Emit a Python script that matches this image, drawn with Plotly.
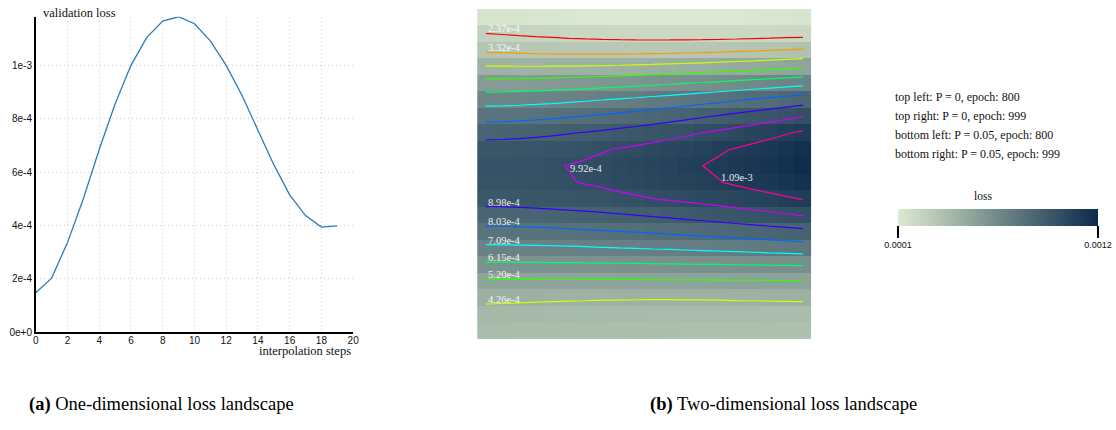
import plotly.graph_objects as go

W, H = 1116, 430

# ---------------- data ----------------
# (a) one-dimensional loss landscape
interp_steps = list(range(20))
val_loss = [1.48e-4, 2.03e-4, 3.36e-4, 5.00e-4, 6.85e-4, 8.55e-4, 1.000e-3, 1.105e-3,
            1.166e-3, 1.182e-3, 1.156e-3, 1.092e-3, 1.000e-3, 8.87e-4, 7.57e-4,
            6.28e-4, 5.15e-4, 4.37e-4, 3.94e-4, 3.99e-4]
y_tick_vals = [0, 2e-4, 4e-4, 6e-4, 8e-4, 1e-3]
y_tick_text = ["0e+0", "2e-4", "4e-4", "6e-4", "8e-4", "1e-3"]
x_tick_vals = list(range(0, 21, 2))

# (b) two-dimensional loss landscape, 20 x 20 grid (units of 1e-4), row 0 = top
grid_unit = 1e-4
loss_grid_e4 = [
    [1.35, 1.31, 1.27, 1.23, 1.19, 1.15, 1.13, 1.10, 1.08, 1.07, 1.07, 1.07, 1.07, 1.09, 1.11, 1.13, 1.16, 1.19, 1.22, 1.25],
    [2.38, 2.33, 2.27, 2.22, 2.17, 2.12, 2.08, 2.04, 2.01, 1.99, 1.97, 1.96, 1.96, 1.96, 1.97, 1.98, 2.00, 2.02, 2.05, 2.07],
    [3.17, 3.13, 3.10, 3.06, 3.04, 3.01, 3.00, 2.99, 2.99, 2.99, 3.01, 3.03, 3.06, 3.09, 3.13, 3.18, 3.23, 3.29, 3.35, 3.41],
    [4.31, 4.30, 4.29, 4.29, 4.30, 4.31, 4.33, 4.35, 4.38, 4.42, 4.46, 4.51, 4.56, 4.62, 4.68, 4.75, 4.82, 4.90, 4.98, 5.06],
    [5.51, 5.52, 5.55, 5.58, 5.62, 5.67, 5.72, 5.78, 5.84, 5.91, 5.98, 6.06, 6.14, 6.22, 6.31, 6.41, 6.51, 6.61, 6.71, 6.82],
    [6.70, 6.72, 6.75, 6.80, 6.85, 6.92, 6.99, 7.07, 7.16, 7.25, 7.36, 7.46, 7.58, 7.70, 7.82, 7.95, 8.09, 8.23, 8.38, 8.53],
    [7.70, 7.72, 7.76, 7.81, 7.88, 7.96, 8.05, 8.14, 8.25, 8.36, 8.49, 8.62, 8.75, 8.90, 9.05, 9.21, 9.37, 9.54, 9.72, 9.90],
    [8.65, 8.67, 8.71, 8.77, 8.84, 8.93, 9.02, 9.12, 9.24, 9.36, 9.49, 9.63, 9.77, 9.93, 10.08, 10.25, 10.43, 10.61, 10.80, 10.99],
    [9.41, 9.43, 9.47, 9.53, 9.59, 9.67, 9.76, 9.86, 9.97, 10.08, 10.21, 10.34, 10.47, 10.62, 10.77, 10.93, 11.10, 11.27, 11.45, 11.63],
    [9.68, 9.70, 9.74, 9.79, 9.86, 9.94, 10.02, 10.12, 10.23, 10.34, 10.46, 10.59, 10.72, 10.87, 11.02, 11.17, 11.34, 11.51, 11.68, 11.86],
    [9.65, 9.67, 9.70, 9.75, 9.81, 9.88, 9.96, 10.04, 10.14, 10.24, 10.35, 10.46, 10.58, 10.71, 10.84, 10.98, 11.12, 11.27, 11.43, 11.59],
    [9.36, 9.37, 9.40, 9.44, 9.49, 9.54, 9.60, 9.67, 9.75, 9.83, 9.91, 10.00, 10.10, 10.20, 10.30, 10.42, 10.53, 10.65, 10.77, 10.90],
    [8.55, 8.56, 8.59, 8.62, 8.67, 8.72, 8.77, 8.83, 8.90, 8.97, 9.05, 9.13, 9.22, 9.31, 9.41, 9.51, 9.61, 9.72, 9.83, 9.95],
    [7.75, 7.76, 7.78, 7.80, 7.83, 7.87, 7.91, 7.95, 8.00, 8.05, 8.11, 8.17, 8.23, 8.30, 8.36, 8.44, 8.51, 8.59, 8.67, 8.75],
    [6.90, 6.91, 6.92, 6.93, 6.95, 6.97, 7.00, 7.03, 7.06, 7.09, 7.13, 7.16, 7.20, 7.24, 7.29, 7.33, 7.38, 7.43, 7.48, 7.53],
    [6.00, 6.00, 6.01, 6.01, 6.02, 6.02, 6.03, 6.04, 6.05, 6.06, 6.07, 6.08, 6.10, 6.11, 6.12, 6.14, 6.15, 6.17, 6.18, 6.20],
    [5.05, 5.05, 5.05, 5.06, 5.06, 5.06, 5.07, 5.07, 5.08, 5.08, 5.09, 5.10, 5.10, 5.11, 5.12, 5.13, 5.13, 5.14, 5.15, 5.16],
    [4.45, 4.43, 4.41, 4.39, 4.37, 4.36, 4.35, 4.33, 4.33, 4.32, 4.32, 4.32, 4.33, 4.33, 4.34, 4.36, 4.37, 4.39, 4.40, 4.42],
    [3.95, 3.93, 3.91, 3.89, 3.87, 3.85, 3.83, 3.81, 3.80, 3.78, 3.77, 3.76, 3.75, 3.74, 3.74, 3.73, 3.73, 3.72, 3.72, 3.72],
    [3.75, 3.74, 3.72, 3.70, 3.68, 3.66, 3.64, 3.63, 3.61, 3.59, 3.58, 3.57, 3.56, 3.55, 3.54, 3.53, 3.52, 3.52, 3.51, 3.50],
]
contour_levels = [2.37e-4, 3.32e-4, 4.26e-4, 5.20e-4, 6.15e-4, 7.09e-4, 8.03e-4, 8.98e-4, 9.92e-4, 1.087e-3]
contour_colors = ["#ff0000", "#ff9900", "#ccff00", "#33ff00", "#00ff66",
                  "#00ffff", "#0066ff", "#3300ff", "#cc00ff", "#ff0099"]
legend_lines = ["top left: P = 0, epoch: 800",
                "top right: P = 0, epoch: 999",
                "bottom left: P = 0.05, epoch: 800",
                "bottom right: P = 0.05, epoch: 999"]
color_min, color_max = 1e-4, 1.2e-3

# ---------------- helpers ----------------
Z = [[v * grid_unit for v in row] for row in loss_grid_e4]
n_rows, n_cols = len(Z), len(Z[0])
gx = list(range(n_cols))
gy = list(range(n_rows))


def fmt_level(v):
    m, e = f"{v:.2e}".split("e")
    return f"{m}e{int(e)}"


def cross_col(col, level, r0, r1):
    for i in range(r0, r1):
        a, b = Z[i][col], Z[i + 1][col]
        if a != b and (a - level) * (b - level) <= 0:
            return i + (level - a) / (b - a)
    return None


def cross_row(row, level):
    for j in range(n_cols - 1):
        a, b = Z[row][j], Z[row][j + 1]
        if a != b and (a - level) * (b - level) <= 0:
            return j + (level - a) / (b - a)
    return None


def px(xp):
    return xp / W


def py(yp):
    return (H - yp) / H


fig = go.Figure()

# ---------------- (a) ----------------
fig.add_trace(go.Scatter(x=interp_steps, y=val_loss, mode="lines",
                         line=dict(color="#2b7bba", width=1.3),
                         xaxis="x", yaxis="y", showlegend=False))

# ---------------- (b) ----------------
fig.add_trace(go.Heatmap(
    z=Z, x=gx, y=gy, xaxis="x2", yaxis="y2",
    zmin=color_min, zmax=color_max,
    colorscale=[[0, "#dde9d2"], [0.25, "#a9bcab"], [0.5, "#72898a"],
                [0.75, "#3d5a6c"], [1, "#0d2a4b"]],
    showscale=True,
    colorbar=dict(orientation="h", x=px(1003), xanchor="center",
                  y=py(212), yanchor="top", len=200, lenmode="pixels",
                  thickness=17, thicknessmode="pixels", xpad=0, ypad=0,
                  outlinewidth=0, tickvals=[color_min, color_max],
                  ticktext=["0.0001", "0.0012"], ticks="outside", ticklen=12,
                  tickwidth=1.5, tickcolor="black",
                  tickfont=dict(family="Liberation Sans", size=9, color="#111")),
))

for lv, col in zip(contour_levels, contour_colors):
    fig.add_trace(go.Contour(
        z=Z, x=gx, y=gy, xaxis="x2", yaxis="y2",
        autocontour=False,
        contours=dict(start=lv, end=lv, size=1e-3, coloring="none", showlabels=False),
        line=dict(color=col, width=1.2, smoothing=0),
        showscale=False, hoverinfo="skip", showlegend=False))

annotations = []
label_font = dict(family="Liberation Serif", size=10.5, color="rgba(255,255,255,0.92)")
for k, lv in enumerate(contour_levels):
    txt = fmt_level(lv)
    if k < 2:
        r = cross_col(0, lv, 0, n_rows // 2)
        annotations.append(dict(x=0, y=r, xref="x2", yref="y2", text=txt, showarrow=False,
                                xanchor="left", yanchor="bottom", yshift=-3, font=label_font))
    elif k < 8:
        r = cross_col(0, lv, n_rows // 2, n_rows - 1)
        annotations.append(dict(x=0, y=r, xref="x2", yref="y2", text=txt, showarrow=False,
                                xanchor="left", yanchor="bottom", yshift=-3, font=label_font))
    elif k == 8:
        c = cross_row(9, lv)
        annotations.append(dict(x=c, y=9, xref="x2", yref="y2", text=txt, showarrow=False,
                                xanchor="left", yanchor="middle", xshift=3, yshift=-3, font=label_font))
    else:
        c = cross_row(10, lv)
        annotations.append(dict(x=c, y=10, xref="x2", yref="y2", text=txt, showarrow=False,
                                xanchor="left", yanchor="middle", xshift=-4, yshift=5, font=label_font))

serif = "Liberation Serif"
annotations += [
    dict(x=px(38), y=py(13), xref="paper", yref="paper", text="validation loss",
         showarrow=False, xanchor="left", yanchor="middle",
         font=dict(family=serif, size=12.5, color="#111")),
    dict(x=px(353), y=py(356), xref="paper", yref="paper", text="interpolation steps",
         showarrow=False, xanchor="right", yanchor="middle",
         font=dict(family=serif, size=12.5, color="#111")),
    dict(x=px(988), y=py(199), xref="paper", yref="paper", text="loss",
         showarrow=False, xanchor="center", yanchor="middle",
         font=dict(family=serif, size=11.5, color="#111")),
    dict(x=px(160), y=py(410), xref="paper", yref="paper",
         text="<b>(a)</b> One-dimensional loss landscape",
         showarrow=False, xanchor="center", yanchor="middle",
         font=dict(family=serif, size=18.5, color="#000")),
    dict(x=px(787), y=py(410), xref="paper", yref="paper",
         text="<b>(b)</b> Two-dimensional loss landscape",
         showarrow=False, xanchor="center", yanchor="middle",
         font=dict(family=serif, size=18.5, color="#000")),
]
for i, t in enumerate(legend_lines):
    annotations.append(dict(x=px(897), y=py(98 + 19.4 * i), xref="paper", yref="paper",
                            text=t, showarrow=False, xanchor="left", yanchor="middle",
                            font=dict(family=serif, size=12, color="#111")))

tick_font = dict(family="Liberation Sans", size=10, color="#111")
fig.update_layout(
    width=W, height=H, autosize=False,
    margin=dict(l=0, r=0, t=0, b=0),
    paper_bgcolor="white", plot_bgcolor="white",
    showlegend=False,
    xaxis=dict(domain=[px(33), px(353)], range=[0, 20], tickvals=x_tick_vals,
               showline=True, linecolor="black", linewidth=1.5,
               ticks="", ticklabelstandoff=-2,
               showgrid=True, gridcolor="#cfcfcf", griddash="1px,3px", gridwidth=1,
               zeroline=False, tickfont=tick_font, anchor="y", fixedrange=True),
    yaxis=dict(domain=[py(337), py(17)], range=[0, max(val_loss)],
               tickvals=y_tick_vals, ticktext=y_tick_text,
               showline=True, linecolor="black", linewidth=1.5,
               ticks="", ticklabelstandoff=0,
               showgrid=True, gridcolor="#cfcfcf", griddash="1px,3px", gridwidth=1,
               zeroline=False, tickfont=tick_font, anchor="x", fixedrange=True),
    xaxis2=dict(domain=[px(478), px(815)], range=[-0.5, n_cols - 0.5],
                showgrid=False, zeroline=False, showticklabels=False, ticks="",
                showline=False, anchor="y2"),
    yaxis2=dict(domain=[py(344), py(9)], range=[n_rows - 0.5, -0.5],
                showgrid=False, zeroline=False, showticklabels=False, ticks="",
                showline=False, anchor="x2"),
    annotations=annotations,
)

fig.write_html("out.html")
